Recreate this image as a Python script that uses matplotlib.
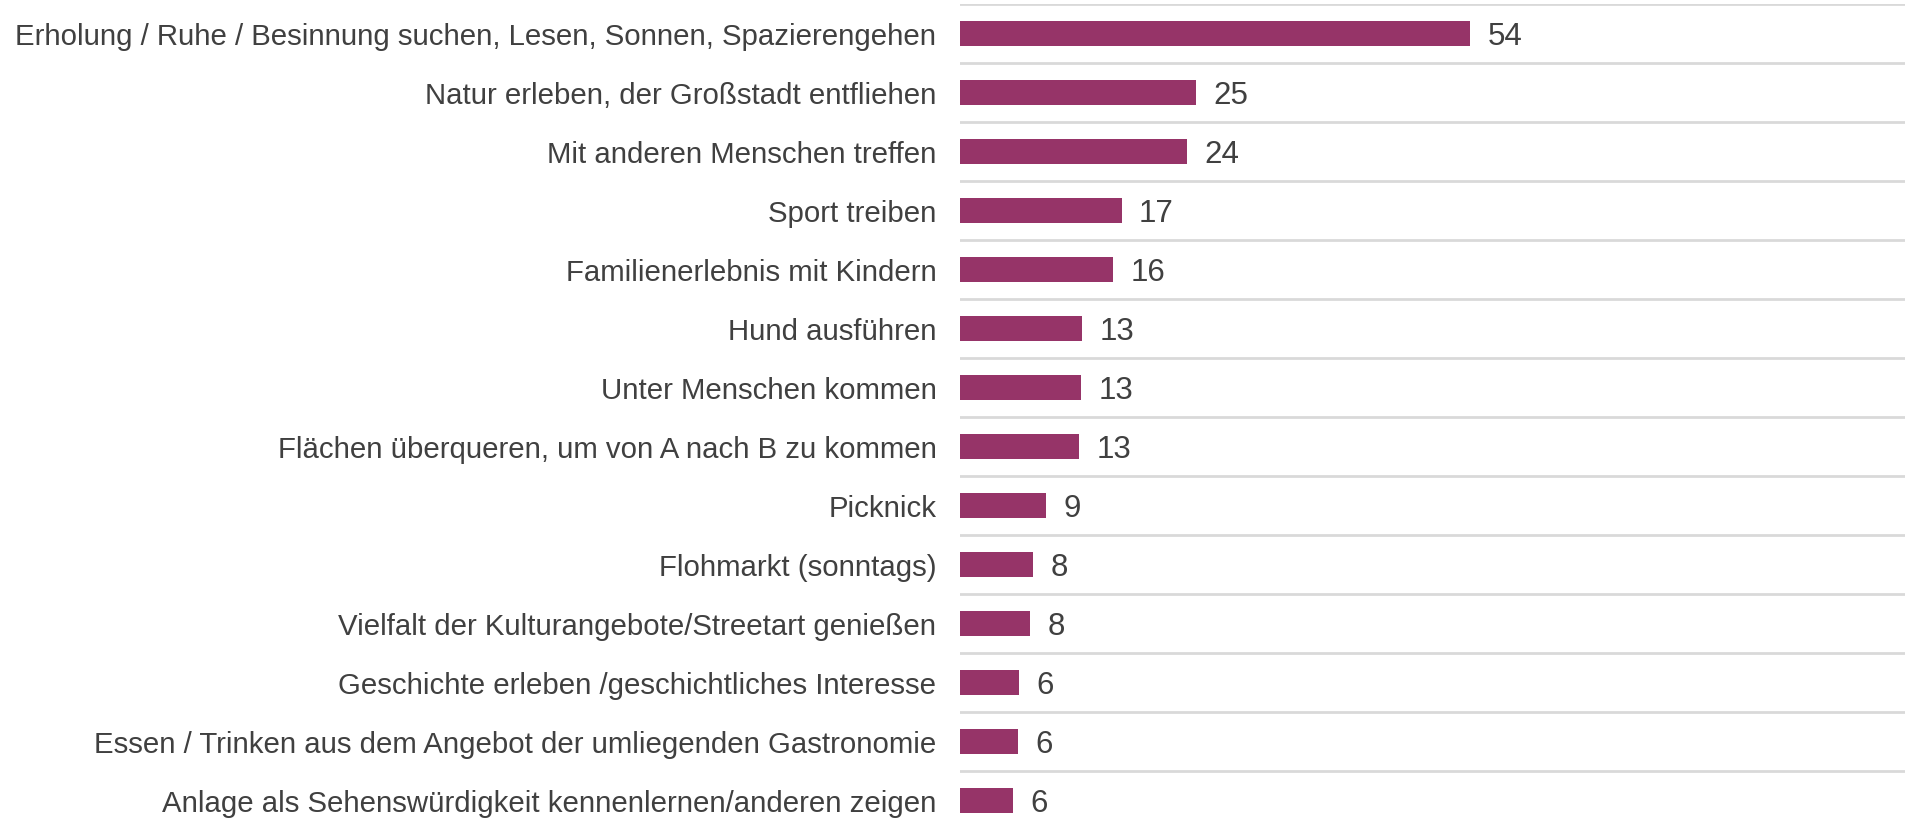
import numpy as np
import matplotlib
matplotlib.use("Agg")
import matplotlib.pyplot as plt

plt.rcParams['font.family'] = ['Liberation Sans', 'DejaVu Sans']

# Data
categories = [
    "Erholung / Ruhe / Besinnung suchen, Lesen, Sonnen, Spazierengehen",
    "Natur erleben, der Großstadt entfliehen",
    "Mit anderen Menschen treffen",
    "Sport treiben",
    "Familienerlebnis mit Kindern",
    "Hund ausführen",
    "Unter Menschen kommen",
    "Flächen überqueren, um von A nach B zu kommen",
    "Picknick",
    "Flohmarkt (sonntags)",
    "Vielfalt der Kulturangebote/Streetart genießen",
    "Geschichte erleben /geschichtliches Interesse",
    "Essen / Trinken aus dem Angebot der umliegenden Gastronomie",
    "Anlage als Sehenswürdigkeit kennenlernen/anderen zeigen",
]
values = [54, 25, 24, 17, 16, 13, 13, 13, 9, 8, 8, 6, 6, 6]
# unrounded lengths as drawn in the original (equal labels differ slightly)
bar_lengths = [54, 25, 24, 17.1, 16.2, 12.9, 12.8, 12.6, 9.1, 7.7, 7.4, 6.2, 6.1, 5.6]

bar_color = "#963468"
text_color = "#404040"
grid_color = "#d9d9d9"

fig = plt.figure(figsize=(19.05, 8.26), dpi=100)
ax = fig.add_axes([960 / 1905, -4 / 826, 1 - 960 / 1905, 1.0])

y = np.arange(len(categories))
ax.barh(y, bar_lengths, height=0.41, color=bar_color, zorder=3)
for yi, length, v in zip(y, bar_lengths, values):
    ax.annotate(str(v), xy=(length, yi), xytext=(12.5, -2.5),
                textcoords='offset points', va='center', ha='left',
                fontsize=22.5, color=text_color)

ax.set_ylim(len(categories) - 0.5, -0.5)
ax.set_xlim(0, 100)

ax.set_yticks(y)
ax.set_yticklabels(categories, fontsize=21.2, color=text_color)
ax.set_yticks(np.arange(-0.5, len(categories), 1), minor=True)
ax.tick_params(axis='y', which='both', length=0, pad=17)
ax.tick_params(axis='x', which='both', length=0, labelbottom=False)
ax.grid(True, axis='y', which='minor', color=grid_color, linewidth=2, zorder=0)
ax.grid(False, axis='y', which='major')
ax.grid(False, axis='x')

for s in ax.spines.values():
    s.set_visible(False)

fig.savefig("out.png", dpi=100)
